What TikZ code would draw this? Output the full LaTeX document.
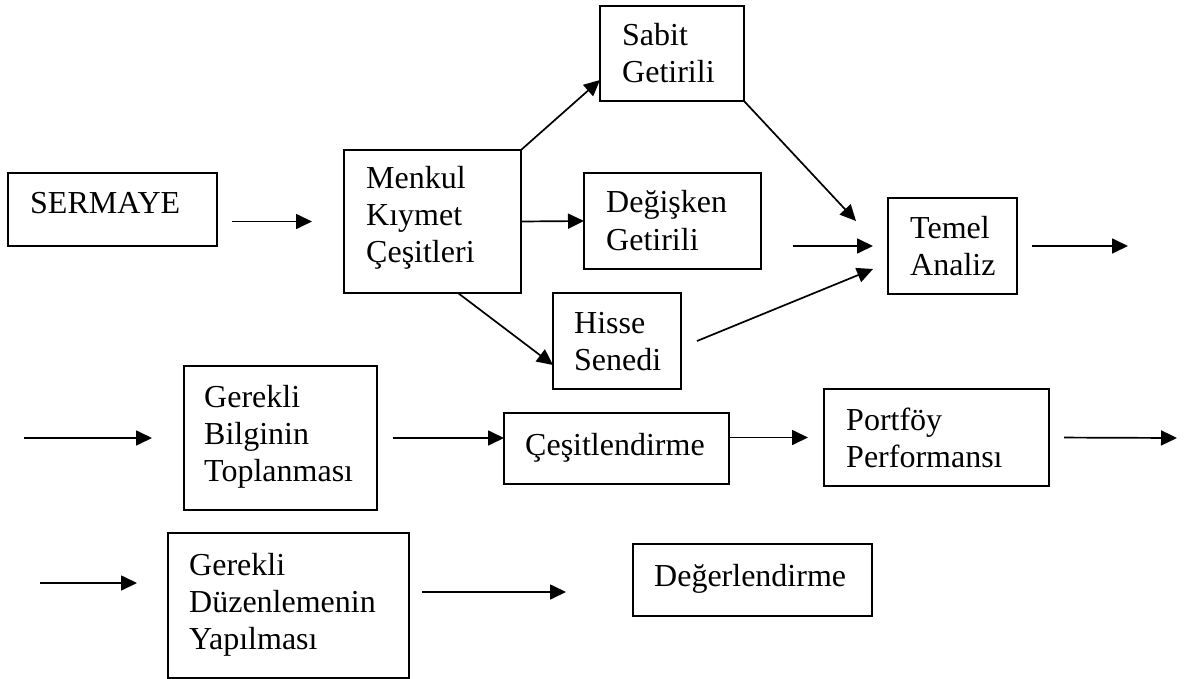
\documentclass[tikz,border=0pt]{standalone}
\usepackage{fontspec}
\setmainfont{Liberation Serif}
\usetikzlibrary{arrows.meta}
\newcommand\tnr{\fontsize{32}{37}\selectfont}
\newcommand\mlines[1]{\begin{tabular}[t]{@{}l@{}}#1\end{tabular}}
\begin{document}
\begin{tikzpicture}[x=1pt,y=-1pt,
  box/.style={draw, line width=1.8pt, inner sep=0pt, outer sep=0pt, anchor=north west},
  txt/.style={anchor=base west, inner sep=0pt, font=\tnr},
  arr/.style={-{Triangle[length=16pt,width=15pt]}, line width=1.7pt}]
\useasboundingbox (0,0) rectangle (1191,679);
% boxes
\node[box, minimum width=209pt, minimum height=73pt]  (sermaye)  at (8,173) {};
\node[box, minimum width=177pt, minimum height=143pt] (menkul)   at (344,150) {};
\node[box, minimum width=144pt, minimum height=95pt]  (sabit)    at (600,6) {};
\node[box, minimum width=177pt, minimum height=96pt]  (degisken) at (584,173) {};
\node[box, minimum width=128pt, minimum height=96pt]  (hisse)    at (553,293) {};
\node[box, minimum width=129pt, minimum height=96pt]  (temel)    at (888,198) {};
\node[box, minimum width=193pt, minimum height=144pt] (gerekli1) at (184,366) {};
\node[box, minimum width=225pt, minimum height=71pt]  (cesit)    at (504,413) {};
\node[box, minimum width=225pt, minimum height=97pt]  (portfoy)  at (824,389) {};
\node[box, minimum width=241pt, minimum height=145pt] (gerekli2) at (168,533) {};
\node[box, minimum width=239pt, minimum height=72pt]  (deger)    at (633,544) {};
% texts
\node[txt] (t-sermaye)  at (30,214)  {SERMAYE};
\node[txt] (t-menkul)   at (366,189) {\mlines{Menkul\\Kıymet\\Çeşitleri}};
\node[txt] (t-sabit)    at (622,46)  {\mlines{Sabit\\Getirili}};
\node[txt] (t-degisken) at (606,213) {\mlines{Değişken\\Getirili}};
\node[txt] (t-hisse)    at (574,333) {\mlines{Hisse\\Senedi}};
\node[txt] (t-temel)    at (910,238) {\mlines{Temel\\Analiz}};
\node[txt] (t-gerekli1) at (204,407) {\mlines{Gerekli\\Bilginin\\Toplanması}};
\node[txt] (t-cesit)    at (525,455) {Çeşitlendirme};
\node[txt] (t-portfoy)  at (846,430) {\mlines{Portföy\\Performansı}};
\node[txt] (t-gerekli2) at (189,575) {\mlines{Gerekli\\Düzenlemenin\\Yapılması}};
\node[txt] (t-deger)    at (654,586) {Değerlendirme};
% free ends
\coordinate (e1) at (1128,246);
\coordinate (s1) at (24,438);
\coordinate (e2) at (1177,438);
\coordinate (s2) at (40,583);
% connectors
\draw[arr, shorten <=15pt, shorten >=32pt] (sermaye.east |- menkul.west) -- (menkul.west);
\draw[arr] (menkul.north east) -- ([yshift=21pt]sabit.south west);
\draw[arr] (menkul.east) -- (degisken.west);
\draw[arr] ([xshift=25.5pt]menkul.south) -- ([yshift=-24pt]hisse.west);
\draw[arr] (sabit.south east) -- ([xshift=-32pt,yshift=-23pt]temel.north west);
\draw[arr, shorten <=32pt, shorten >=15pt] (degisken.east |- temel.west) -- (temel.west);
\draw[arr] ([xshift=16pt]hisse.east) -- ([xshift=-15pt,yshift=-23pt]temel.west);
\draw[arr, shorten <=15pt] (temel.east) -- (e1);
\draw[arr, shorten >=32pt] (s1) -- (gerekli1.west);
\draw[arr, shorten <=16pt] (gerekli1.east) -- (gerekli1.east -| cesit.west);
\draw[arr, shorten >=16pt] (cesit.east |- portfoy.west) -- (portfoy.west);
\draw[arr, shorten <=15pt] (portfoy.east) -- (e2);
\draw[arr, shorten >=31pt] (s2) -- (s2 -| gerekli2.west);
\draw[arr, shorten <=13pt, shorten >=67pt] ([yshift=13.5pt]gerekli2.east) -- ([yshift=13.5pt]gerekli2.east -| deger.west);
\end{tikzpicture}
\end{document}
